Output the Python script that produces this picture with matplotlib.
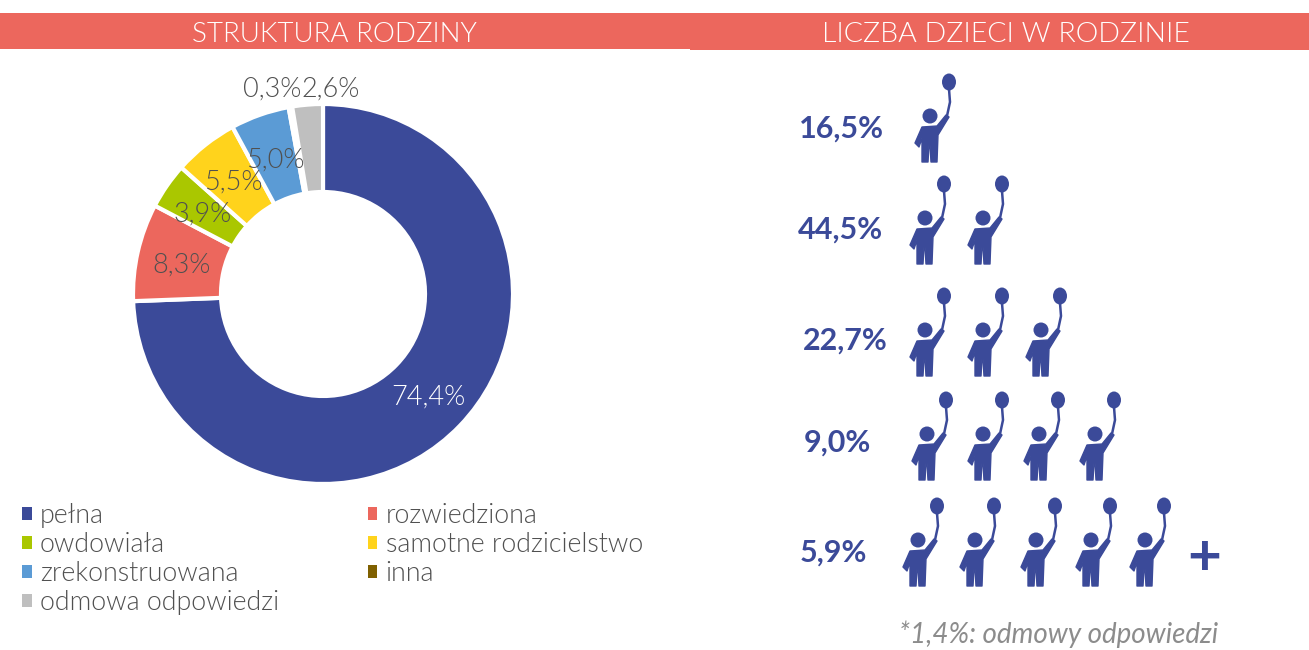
import matplotlib
matplotlib.use("Agg")
import matplotlib.pyplot as plt
from matplotlib import font_manager as fm
from matplotlib.patches import Rectangle, Circle, Ellipse, Polygon, Patch

W, H = 1309, 650
FONT = ["Lato", "DejaVu Sans"]
plt.rcParams["font.family"] = FONT

# Data
family_types = ["pełna", "rozwiedziona", "owdowiała", "samotne rodzicielstwo",
                "zrekonstruowana", "inna", "odmowa odpowiedzi"]
family_shares = [74.4, 8.3, 3.9, 5.5, 5.0, 0.3, 2.6]
family_colors = ["#3B4A99", "#EC675D", "#AAC700", "#FFD31C", "#5B9BD5", "#7F6000", "#BFBFBF"]
child_rows = [1, 2, 3, 4, 5]
child_shares = ["16,5%", "44,5%", "22,7%", "9,0%", "5,9%"]

NAVY = "#3B4A99"
GREY = "#505050"

light_path = next((f.fname for f in fm.fontManager.ttflist
                   if f.name == "Lato" and f.fname.endswith("Lato-Light.ttf")), None)


def light(size):
    if light_path:
        return fm.FontProperties(fname=light_path, size=size)
    return fm.FontProperties(family="Lato", size=size)


fig = plt.figure(figsize=(W / 100, H / 100), dpi=100, facecolor="white")
ax = fig.add_axes([0, 0, 1, 1])


def Y(y):
    return H - y


# Header bands
ax.add_patch(Rectangle((0, Y(49)), 690, 36, fc="#EC675D", ec="none"))
ax.add_patch(Rectangle((690, Y(50)), W - 690, 37, fc="#EC675D", ec="none"))
ax.text(334, Y(34), "STRUKTURA RODZINY", color="white", fontproperties=light(20), ha="center", va="center")
ax.text(1006, Y(34), "LICZBA DZIECI W RODZINIE", color="white", fontproperties=light(20.5), ha="center", va="center")

# Donut
ax.pie(family_shares, colors=family_colors, startangle=90, counterclock=False,
       center=(323, Y(294)), radius=190, frame=True,
       wedgeprops=dict(width=88, edgecolor="white", linewidth=3))

label_xy = [(428, 397), (182, 265), (203, 214), (233, 182), (275, 160), (272, 89), (331, 89)]
for i, (share, (x, y)) in enumerate(zip(family_shares, label_xy)):
    ax.text(x, Y(y), f"{share:.1f}".replace(".", ",") + "%", fontproperties=light(19.5), ha="center", va="center",
            color="white" if i == 0 else GREY)

# Legend, ordered so two columns read row by row
order = [0, 2, 4, 6, 1, 3, 5]
handles = [Patch(fc=family_colors[i], ec="none", label=family_types[i]) for i in order]
leg = ax.legend(handles=handles, ncols=2, loc="upper left", bbox_to_anchor=(22 / W, 1 - 503 / H),
                frameon=False, prop=light(19.3), labelcolor=GREY, handlelength=0.37, handleheight=0.37,
                handletextpad=0.3, columnspacing=3.3, labelspacing=0.15, borderpad=0, borderaxespad=0)

# Children icons
BODY = [(-15, 27), (-8, 11), (7, 10), (16, -1), (19, 1), (8, 19), (7, 46), (1, 46), (0, 29), (-1, 29),
        (-2, 46), (-8, 46), (-8, 22), (-11, 31)]
STRING = [(17, 0), (20, -14), (19, -27)]


def child(hx, hy):
    ax.add_patch(Circle((hx, Y(hy)), 7.5, fc=NAVY, ec="none"))
    ax.add_patch(Polygon([(hx + a, Y(hy + b)) for a, b in BODY], closed=True, fc=NAVY, ec=NAVY, lw=1.0,
                         joinstyle="round"))
    ax.plot([hx + a for a, _ in STRING], [Y(hy + b) for _, b in STRING], color=NAVY, lw=1.8,
            solid_capstyle="round")
    ax.add_patch(Ellipse((hx + 19, Y(hy - 34)), 14, 17, fc=NAVY, ec="none"))


head_x = [[930], [925, 983], [925, 983, 1041], [927, 983, 1039, 1095], [918, 975, 1036, 1091, 1145]]
head_y = [116, 218, 330, 434, 540]
label_x = [841, 840, 845, 837, 833]
label_y = [129, 230, 341, 443, 553]
for n, share, xs, hy, lx, ly in zip(child_rows, child_shares, head_x, head_y, label_x, label_y):
    for hx in xs[:n]:
        child(hx, hy)
    ax.text(lx, Y(ly), share, color=NAVY, fontsize=22, fontweight="bold", ha="center", va="center")

ax.text(1204, Y(559), "+", color=NAVY, fontsize=42, fontweight="bold", ha="center", va="center")
ax.text(1059, Y(643), "*1,4%: odmowy odpowiedzi", color="#8C8C8C", fontsize=20, fontstyle="italic",
        ha="center", va="baseline")

ax.set_xlim(0, W)
ax.set_ylim(0, H)
ax.set_aspect("auto")
ax.axis("off")
fig.savefig("out.png", dpi=100, facecolor="white")
